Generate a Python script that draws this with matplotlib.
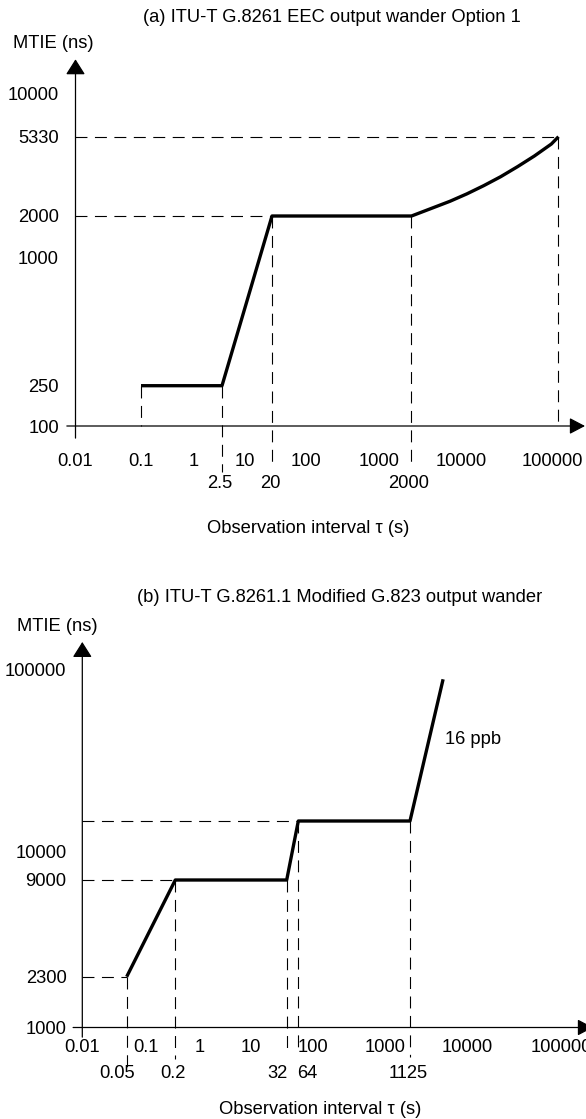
import numpy as np
import matplotlib
matplotlib.use("Agg")
import matplotlib.pyplot as plt
from matplotlib.transforms import ScaledTranslation

plt.rcParams['font.family'] = ['Liberation Sans', 'DejaVu Sans']
plt.rcParams['lines.scale_dashes'] = False

# ---- data: panel (a) G.8261 EEC option 1 ----
tau_a = [0.1, 2.5, 20, 2000, 4100, 7000, 11500, 17100, 25500, 38000, 56600, 84500, 100000]
mtie_a = [250, 250, 2000, 2000, 2220, 2400, 2630, 2910, 3250, 3680, 4200, 4870, 5330]
xticks_a = [0.01, 0.1, 1, 10, 100, 1000, 10000, 100000]
xtick_labels_a = ['0.01', '0.1', '1', '10', '100', '1000', '10000', '100000']
xmarks_a = [2.5, 20, 2000]
xmark_labels_a = ['2.5', '20', '2000']
yticks_a = [100, 250, 1000, 2000, 5330, 10000]
hguides_a = [(20, 2000), (100000, 5330)]
vguides_a = [(0.1, 250), (2.5, 250), (20, 2000), (2000, 2000), (100000, 5330)]

# ---- data: panel (b) G.8261.1 modified G.823 ----
tau_b = [0.05, 0.2, 32, 64, 1125, 4000]
mtie_b = [2300, 9000, 9000, 18000, 18000, 90000]
xticks_b = [0.01, 0.1, 1, 10, 100, 1000, 10000, 100000]
xtick_labels_b = ['0.01', '0.1', '1', '10', '100', '1000', '10000', '100000']
xmarks_b = [0.05, 0.2, 32, 64, 1125]
xmark_labels_b = ['0.05', '0.2', '32', '64', '1125']
yticks_b = [1000, 2300, 9000, 10000, 100000]
hguides_b = [(0.05, 2300), (0.2, 9000), (64, 18000)]
vguides_b = [(0.05, 2300), (0.2, 9000), (32, 9000), (64, 18000), (1125, 18000)]

# ---- layout (schematic axes: pixel anchors of the drawing) ----
W, H = 586, 1119
xanch_a = ([0.01, 0.1, 1, 2.5, 10, 20, 100, 1000, 2000, 10000, 100000],
           [75.5, 141, 194, 222, 245, 272, 306, 379, 411.5, 461, 558.5])
yanch_a = ([100, 250, 1000, 2000, 5330, 10000], [426, 385.7, 257.7, 216, 136.7, 93])
xanch_b = ([0.01, 0.05, 0.1, 0.2, 1, 10, 32, 64, 100, 1000, 1125, 10000, 100000],
           [82.3, 126.7, 146, 175.3, 200, 251, 286.7, 298.3, 313, 385, 410, 467, 561])
yanch_b = ([1000, 2300, 9000, 10000, 18000, 100000], [1027.5, 976.7, 880, 852, 821, 670])

FS = 13.2


def make_scale(vals, pos):
    lv = np.log10(np.asarray(vals, float))
    p = np.asarray(pos, float)
    s0 = (p[1] - p[0]) / (lv[1] - lv[0])
    s1 = (p[-1] - p[-2]) / (lv[-1] - lv[-2])
    lv = np.r_[lv[0] - 40, lv, lv[-1] + 40]
    p = np.r_[p[0] - 40 * s0, p, p[-1] + 40 * s1]

    def fwd(v):
        return np.interp(np.log10(np.clip(np.asarray(v, float), 1e-300, None)), lv, p)

    def inv(q):
        return 10 ** np.interp(q, p, lv)
    return fwd, inv


def panel(fig, box, xanch, yanch, tau, mtie, xticks, xlabels, xmarks, xmark_labels,
          mark_dx, mark_dy, yticks, hguides, vguides, vends, xpad, ypad, xstart, ystart):
    left, right, top, bottom = box
    ax = fig.add_axes([left / W, 1 - bottom / H, (right - left) / W, (bottom - top) / H])
    fx, ix = make_scale(*xanch)
    fy, iy = make_scale(yanch[0], [-r for r in yanch[1]])
    ax.set_xscale('function', functions=(fx, ix))
    ax.set_yscale('function', functions=(fy, iy))
    ax.set_xlim(ix(left), ix(right))
    ax.set_ylim(iy(-bottom), iy(-top))
    for s in ax.spines.values():
        s.set_visible(False)
    ax.patch.set_visible(False)

    ax.set_xticks(xticks, xlabels)
    ax.set_yticks(yticks, [str(v) for v in yticks])
    ax.minorticks_off()
    ax.tick_params(axis='x', length=0, pad=xpad, labelsize=FS)
    ax.tick_params(axis='y', length=0, pad=ypad, labelsize=FS)

    # axes with arrow heads
    ax.annotate('', xy=(1, 0), xytext=(xstart, 0), xycoords='axes fraction',
                arrowprops=dict(arrowstyle='-|>,head_length=0.95,head_width=0.5',
                                lw=0.9, color='black', shrinkA=0, shrinkB=0,
                                mutation_scale=10), annotation_clip=False)
    ax.annotate('', xy=(0, 1), xytext=(0, ystart), xycoords='axes fraction',
                arrowprops=dict(arrowstyle='-|>,head_length=0.95,head_width=0.6',
                                lw=0.9, color='black', shrinkA=0, shrinkB=0,
                                mutation_scale=10), annotation_clip=False)

    dash = dict(color='black', lw=0.8, dashes=(8.6, 5.4), clip_on=False)
    xmin = ax.get_xlim()[0]
    for t, v in hguides:
        ax.plot([xmin, t], [v, v], **dash)
    to_axes = ax.transData + ax.transAxes.inverted()
    trans = ax.get_xaxis_transform()
    for (t, v), e in zip(vguides, vends):
        ytop = to_axes.transform((t, v))[1]
        ax.plot([t, t], [ytop, e], transform=trans, **dash)

    ax.plot(tau, mtie, color='black', lw=2.4, solid_joinstyle='round',
            solid_capstyle='butt', clip_on=False)

    for t, lab, dx in zip(xmarks, xmark_labels, mark_dx):
        ax.annotate(lab, xy=(t, 0), xycoords=trans, xytext=(dx, -mark_dy),
                    textcoords='offset pixels', ha='center', va='center', fontsize=FS)
    return ax


fig = plt.figure(figsize=(W / 100, H / 100), dpi=100)

ax_a = panel(fig, (75.5, 585, 59.3, 426), xanch_a, yanch_a, tau_a, mtie_a,
             xticks_a, xtick_labels_a, xmarks_a, xmark_labels_a, [-2, -2, -3], 57.5,
             yticks_a, hguides_a, vguides_a, [0, -0.125, -0.106, -0.106, 0.008],
             xpad=19.3, ypad=12, xstart=-0.017, ystart=-0.033)
# last decade label in (a) sits a little left of its guide line
last = ax_a.xaxis.get_major_ticks()[-1].label1
last.set_transform(last.get_transform() + ScaledTranslation(-6 / 100, 0, fig.dpi_scale_trans))

panel(fig, (82.3, 593, 642, 1027.5), xanch_b, yanch_b, tau_b, mtie_b,
      xticks_b, xtick_labels_b, xmarks_b, xmark_labels_b, [-9.7, -2, -9.7, 8.7, -2], 45.5,
      yticks_b, hguides_b, vguides_b, [-0.115, -0.082, -0.071, -0.058, -0.076],
      xpad=8.5, ypad=11.4, xstart=-0.018, ystart=-0.025)

txt = dict(ha='center', va='center', fontsize=FS)
fig.text(332 / W, 1 - 18 / H, '(a) ITU-T G.8261 EEC output wander Option 1', **txt)
fig.text(53 / W, 1 - 43 / H, 'MTIE (ns)', **txt)
fig.text(308 / W, 1 - 528.5 / H, 'Observation interval \u03c4 (s)', **txt)
fig.text(340 / W, 1 - 597.5 / H, '(b) ITU-T G.8261.1 Modified G.823 output wander', **txt)
fig.text(57.5 / W, 1 - 626.7 / H, 'MTIE (ns)', **txt)
fig.text(320 / W, 1 - 1110 / H, 'Observation interval \u03c4 (s)', **txt)
fig.text(445 / W, 1 - 739 / H, '16 ppb', ha='left', va='center', fontsize=FS)

fig.savefig('out.png', dpi=100, facecolor='white')
